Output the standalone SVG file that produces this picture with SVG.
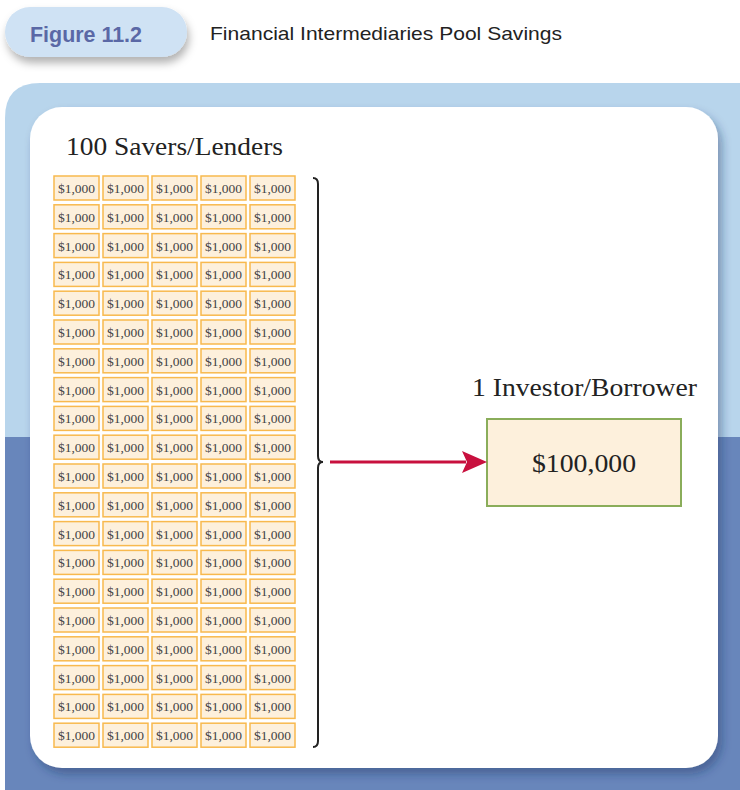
<svg xmlns="http://www.w3.org/2000/svg" xmlns:xlink="http://www.w3.org/1999/xlink" width="740" height="790" viewBox="0 0 740 790">
<style>
.serif{font-family:"Liberation Serif","Times New Roman",serif;fill:#222}
.cellr{fill:#fdf0dc;stroke:#f8b94e;stroke-width:1.5}
.cellt{font-family:"Liberation Serif","Times New Roman",serif;font-size:13.5px;fill:#444;text-anchor:middle}
</style>
<defs>
<filter id="sh" x="-10%" y="-10%" width="130%" height="140%">
<feDropShadow dx="2" dy="6" stdDeviation="4" flood-color="#000" flood-opacity="0.3"/>
</filter>
<filter id="sh2" x="-10%" y="-10%" width="120%" height="130%">
<feDropShadow dx="4" dy="6" stdDeviation="5" flood-color="#1e3060" flood-opacity="0.4"/>
</filter>
<linearGradient id="bg" x1="0" y1="0" x2="0" y2="1">
<stop offset="0" stop-color="#b8d5ec"/>
<stop offset="0.5007" stop-color="#b8d5ec"/>
<stop offset="0.5007" stop-color="#6886bb"/>
<stop offset="1" stop-color="#6886bb"/>
</linearGradient>
<g id="cell">
<rect class="cellr" x="0" y="0" width="45" height="24"/>
<text class="cellt" x="22.5" y="17">$1,000</text>
</g>
</defs>

<rect width="740" height="790" fill="#fff"/>

<g id="header">
<rect x="5" y="7" width="182" height="50" rx="25" fill="#cfe2f4" filter="url(#sh)"/>
<text x="30" y="42" font-family="Liberation Sans, Arial, sans-serif" font-weight="bold" font-size="22" fill="#5a68a6" textLength="112" lengthAdjust="spacingAndGlyphs">Figure 11.2</text>
<text x="210" y="40" font-family="Liberation Sans, Arial, sans-serif" font-size="19" fill="#222" textLength="352" lengthAdjust="spacingAndGlyphs">Financial Intermediaries Pool Savings</text>
</g>

<g id="panel">
<path d="M5,790 L5,118 Q5,83 40,83 L740,83 L740,790 Z" fill="url(#bg)"/>
<rect x="30" y="107" width="688" height="661" rx="32" fill="#fff" filter="url(#sh2)"/>
</g>

<g id="savers">
<text class="serif" x="66" y="155" font-size="25" textLength="217" lengthAdjust="spacingAndGlyphs">100 Savers/Lenders</text>
<g id="grid">
<use xlink:href="#cell" x="54" y="176"/><use xlink:href="#cell" x="103" y="176"/><use xlink:href="#cell" x="152" y="176"/><use xlink:href="#cell" x="201" y="176"/><use xlink:href="#cell" x="250" y="176"/>
<use xlink:href="#cell" x="54" y="204.8"/><use xlink:href="#cell" x="103" y="204.8"/><use xlink:href="#cell" x="152" y="204.8"/><use xlink:href="#cell" x="201" y="204.8"/><use xlink:href="#cell" x="250" y="204.8"/>
<use xlink:href="#cell" x="54" y="233.6"/><use xlink:href="#cell" x="103" y="233.6"/><use xlink:href="#cell" x="152" y="233.6"/><use xlink:href="#cell" x="201" y="233.6"/><use xlink:href="#cell" x="250" y="233.6"/>
<use xlink:href="#cell" x="54" y="262.4"/><use xlink:href="#cell" x="103" y="262.4"/><use xlink:href="#cell" x="152" y="262.4"/><use xlink:href="#cell" x="201" y="262.4"/><use xlink:href="#cell" x="250" y="262.4"/>
<use xlink:href="#cell" x="54" y="291.2"/><use xlink:href="#cell" x="103" y="291.2"/><use xlink:href="#cell" x="152" y="291.2"/><use xlink:href="#cell" x="201" y="291.2"/><use xlink:href="#cell" x="250" y="291.2"/>
<use xlink:href="#cell" x="54" y="320"/><use xlink:href="#cell" x="103" y="320"/><use xlink:href="#cell" x="152" y="320"/><use xlink:href="#cell" x="201" y="320"/><use xlink:href="#cell" x="250" y="320"/>
<use xlink:href="#cell" x="54" y="348.8"/><use xlink:href="#cell" x="103" y="348.8"/><use xlink:href="#cell" x="152" y="348.8"/><use xlink:href="#cell" x="201" y="348.8"/><use xlink:href="#cell" x="250" y="348.8"/>
<use xlink:href="#cell" x="54" y="377.6"/><use xlink:href="#cell" x="103" y="377.6"/><use xlink:href="#cell" x="152" y="377.6"/><use xlink:href="#cell" x="201" y="377.6"/><use xlink:href="#cell" x="250" y="377.6"/>
<use xlink:href="#cell" x="54" y="406.4"/><use xlink:href="#cell" x="103" y="406.4"/><use xlink:href="#cell" x="152" y="406.4"/><use xlink:href="#cell" x="201" y="406.4"/><use xlink:href="#cell" x="250" y="406.4"/>
<use xlink:href="#cell" x="54" y="435.2"/><use xlink:href="#cell" x="103" y="435.2"/><use xlink:href="#cell" x="152" y="435.2"/><use xlink:href="#cell" x="201" y="435.2"/><use xlink:href="#cell" x="250" y="435.2"/>
<use xlink:href="#cell" x="54" y="464"/><use xlink:href="#cell" x="103" y="464"/><use xlink:href="#cell" x="152" y="464"/><use xlink:href="#cell" x="201" y="464"/><use xlink:href="#cell" x="250" y="464"/>
<use xlink:href="#cell" x="54" y="492.8"/><use xlink:href="#cell" x="103" y="492.8"/><use xlink:href="#cell" x="152" y="492.8"/><use xlink:href="#cell" x="201" y="492.8"/><use xlink:href="#cell" x="250" y="492.8"/>
<use xlink:href="#cell" x="54" y="521.6"/><use xlink:href="#cell" x="103" y="521.6"/><use xlink:href="#cell" x="152" y="521.6"/><use xlink:href="#cell" x="201" y="521.6"/><use xlink:href="#cell" x="250" y="521.6"/>
<use xlink:href="#cell" x="54" y="550.4"/><use xlink:href="#cell" x="103" y="550.4"/><use xlink:href="#cell" x="152" y="550.4"/><use xlink:href="#cell" x="201" y="550.4"/><use xlink:href="#cell" x="250" y="550.4"/>
<use xlink:href="#cell" x="54" y="579.2"/><use xlink:href="#cell" x="103" y="579.2"/><use xlink:href="#cell" x="152" y="579.2"/><use xlink:href="#cell" x="201" y="579.2"/><use xlink:href="#cell" x="250" y="579.2"/>
<use xlink:href="#cell" x="54" y="608"/><use xlink:href="#cell" x="103" y="608"/><use xlink:href="#cell" x="152" y="608"/><use xlink:href="#cell" x="201" y="608"/><use xlink:href="#cell" x="250" y="608"/>
<use xlink:href="#cell" x="54" y="636.8"/><use xlink:href="#cell" x="103" y="636.8"/><use xlink:href="#cell" x="152" y="636.8"/><use xlink:href="#cell" x="201" y="636.8"/><use xlink:href="#cell" x="250" y="636.8"/>
<use xlink:href="#cell" x="54" y="665.6"/><use xlink:href="#cell" x="103" y="665.6"/><use xlink:href="#cell" x="152" y="665.6"/><use xlink:href="#cell" x="201" y="665.6"/><use xlink:href="#cell" x="250" y="665.6"/>
<use xlink:href="#cell" x="54" y="694.4"/><use xlink:href="#cell" x="103" y="694.4"/><use xlink:href="#cell" x="152" y="694.4"/><use xlink:href="#cell" x="201" y="694.4"/><use xlink:href="#cell" x="250" y="694.4"/>
<use xlink:href="#cell" x="54" y="723.2"/><use xlink:href="#cell" x="103" y="723.2"/><use xlink:href="#cell" x="152" y="723.2"/><use xlink:href="#cell" x="201" y="723.2"/><use xlink:href="#cell" x="250" y="723.2"/>
</g>
</g>

<g id="borrower">
<text class="serif" x="472" y="396" font-size="25" textLength="225" lengthAdjust="spacingAndGlyphs">1 Investor/Borrower</text>
<rect x="487" y="419" width="194" height="87" fill="#fdf0dc" stroke="#8aad5a" stroke-width="2"/>
<text class="serif" x="532" y="472" font-size="26" textLength="104" lengthAdjust="spacingAndGlyphs">$100,000</text>
</g>

<g id="connectors">
<path d="M313,178 Q318,178 318,184 L318,456 Q318,462 323,462 Q318,462 318,468 L318,741 Q318,747 313,747" fill="none" stroke="#222" stroke-width="2"/>
<line x1="330" y1="462" x2="466" y2="462" stroke="#c8103e" stroke-width="3"/>
<path d="M462,451 L487,462 L462,473 L467,462 Z" fill="#c8103e"/>
</g>
</svg>
